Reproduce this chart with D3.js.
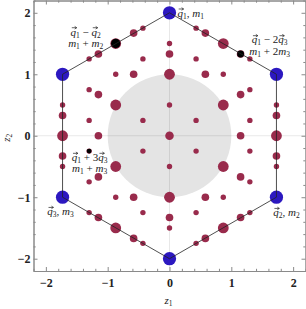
<!DOCTYPE html>
<html>
<head>
<meta charset="utf-8">
<script src="https://cdn.jsdelivr.net/npm/d3@7"></script>
<style>
body { margin: 0; background: #fff; }
svg text { font-family: "Liberation Serif", "DejaVu Serif", serif; }
</style>
</head>
<body>
<script>
// hexagon corners (blue points)
var hexZ1 = [0, 1.73, 1.73, 0, -1.73, -1.73];
var hexZ2 = [2, 1, -1, -2, -1, 1];
var blueWeight = 6;

// crimson points: z1, z2 and weight
var dotZ1 = [0,
  0, 0, 0.87, 0.87, -0.87, -0.87,
  0, 0, 0.43, 0.43, -0.43, -0.43,
  0, 0, 1.3, 1.3, -1.3, -1.3,
  0, 0, 1.15, 1.15, -1.15, -1.15,
  0.58, 0.58, -0.58, -0.58, 1.15, -1.15,
  0.43, 0.43, -0.43, -0.43, 0.87, 0.87, -0.87, -0.87, 1.3, 1.3, -1.3, -1.3,
  0.43, 0.43, -0.43, -0.43, 1.73, 1.73, -1.73, -1.73, 1.3, 1.3, -1.3, -1.3,
  0.58, 0.58, -0.58, -0.58, 1.73, 1.73, -1.73, -1.73, 1.15, 1.15, -1.15, -1.15,
  0.87, 0.87, -0.87, -0.87, 1.73, -1.73];
var dotZ2 = [0,
  1, -1, 0.5, -0.5, 0.5, -0.5,
  0.5, -0.5, 0.25, -0.25, 0.25, -0.25,
  1.5, -1.5, 0.75, -0.75, 0.75, -0.75,
  1.33, -1.33, 0.67, -0.67, 0.67, -0.67,
  1, -1, 1, -1, 0, 0,
  1.25, -1.25, 1.25, -1.25, 1, -1, 1, -1, 0.25, -0.25, 0.25, -0.25,
  1.75, -1.75, 1.75, -1.75, 0.5, -0.5, 0.5, -0.5, 1.25, -1.25, 1.25, -1.25,
  1.67, -1.67, 1.67, -1.67, 0.33, -0.33, 0.33, -0.33, 1.33, -1.33, 1.33, -1.33,
  1.5, -1.5, 1.5, -1.5, 0, 0];
var dotWeight = [2.5,
  4, 4, 4, 4, 4, 4,
  1, 1, 1, 1, 1, 1,
  1, 1, 1, 1, 1, 1,
  2, 2, 2, 2, 2, 2,
  2, 2, 2, 2, 2, 2,
  1, 1, 1, 1, 1, 1, 1, 1, 1, 1, 1, 1,
  1, 1, 1, 1, 1, 1, 1, 1, 1, 1, 1, 1,
  2, 2, 2, 2, 2, 2, 2, 2, 2, 2, 2, 2,
  4, 4, 4, 4, 4, 4];

// black marked points
var blackZ1 = [-0.87, 1.15, -1.3];
var blackZ2 = [1.5, 1.33, -0.25];
var blackWeight = [3, 1.6, 0.8];

var tickMajor = [-2, -1, 0, 1, 2];
var tickMinor = [-2.2, -1.8, -1.6, -1.4, -1.2, -0.8, -0.6, -0.4, -0.2, 0.2, 0.4, 0.6, 0.8, 1.2, 1.4, 1.6, 1.8, 2.2];
var diskRadius = 1;

var width = 306, height = 309;
var svg = d3.select("body").append("svg").attr("width", width).attr("height", height);

var x = d3.scaleLinear().domain([-2.2, 2.2]).range([33.5, 305.5]);
var y = d3.scaleLinear().domain([-2.2, 2.2]).range([271, 0.5]);
var r = d3.scaleSqrt().domain([0, 1]).range([0, 2.7]);

var crimson = "#992b4c", blue = "#2c18c0";

// gray disk
svg.append("ellipse")
    .attr("cx", x(0)).attr("cy", y(0))
    .attr("rx", x(diskRadius) - x(0)).attr("ry", y(0) - y(diskRadius))
    .attr("fill", "#e4e4e4");

// zero grid lines
svg.append("line").attr("x1", x(0)).attr("x2", x(0)).attr("y1", y(2.2)).attr("y2", y(-2.2))
    .attr("stroke", "rgba(0,0,0,0.09)").attr("stroke-width", 1);
svg.append("line").attr("x1", x(-2.2)).attr("x2", x(2.2)).attr("y1", y(0)).attr("y2", y(0))
    .attr("stroke", "rgba(0,0,0,0.09)").attr("stroke-width", 1);

// crimson dots
svg.append("g").selectAll("circle")
    .data(dotZ1)
    .enter().append("circle")
    .attr("cx", function (d) { return x(d); })
    .attr("cy", function (d, i) { return y(dotZ2[i]); })
    .attr("r", function (d, i) { return r(dotWeight[i]); })
    .attr("fill", crimson);

// blue corners
svg.append("g").selectAll("circle")
    .data(hexZ1)
    .enter().append("circle")
    .attr("cx", function (d) { return x(d); })
    .attr("cy", function (d, i) { return y(hexZ2[i]); })
    .attr("r", r(blueWeight))
    .attr("fill", blue);

// black points
svg.append("g").selectAll("circle")
    .data(blackZ1)
    .enter().append("circle")
    .attr("cx", function (d) { return x(d); })
    .attr("cy", function (d, i) { return y(blackZ2[i]); })
    .attr("r", function (d, i) { return r(blackWeight[i]); })
    .attr("fill", "#000");

// hexagon outline
var hexPts = hexZ1.map(function (d, i) { return [x(d), y(hexZ2[i])]; });
svg.append("path")
    .attr("d", d3.line()(hexPts) + "Z")
    .attr("fill", "none")
    .attr("stroke", "#222")
    .attr("stroke-width", 0.8);

// frame + ticks
function styleAxis(g) {
    g.select(".domain").attr("stroke", "#8a8a8a");
    g.selectAll(".tick line").attr("stroke", "#8a8a8a");
    g.selectAll("text").attr("font-weight", "bold").attr("font-size", 12).attr("fill", "#222");
}
var fmt = function (d) { return d < 0 ? "\u2212" + Math.abs(d) : d; };

svg.append("g").attr("transform", "translate(0," + y(-2.2) + ")")
    .call(d3.axisBottom(x).tickValues(tickMajor).tickSizeInner(-4).tickSizeOuter(0).tickPadding(7).tickFormat(fmt))
    .call(styleAxis);
svg.append("g").attr("transform", "translate(0," + y(-2.2) + ")")
    .call(d3.axisBottom(x).tickValues(tickMinor).tickSizeInner(-2.2).tickSizeOuter(0).tickFormat(""))
    .call(styleAxis);
svg.append("g").attr("transform", "translate(0," + y(2.2) + ")")
    .call(d3.axisTop(x).tickValues(tickMajor).tickSizeInner(-4).tickSizeOuter(0).tickFormat(""))
    .call(styleAxis);
svg.append("g").attr("transform", "translate(0," + y(2.2) + ")")
    .call(d3.axisTop(x).tickValues(tickMinor).tickSizeInner(-2.2).tickSizeOuter(0).tickFormat(""))
    .call(styleAxis);
svg.append("g").attr("transform", "translate(" + x(-2.2) + ",0)")
    .call(d3.axisLeft(y).tickValues(tickMajor).tickSizeInner(-4).tickSizeOuter(0).tickPadding(3).tickFormat(fmt))
    .call(styleAxis);
svg.append("g").attr("transform", "translate(" + x(-2.2) + ",0)")
    .call(d3.axisLeft(y).tickValues(tickMinor).tickSizeInner(-2.2).tickSizeOuter(0).tickFormat(""))
    .call(styleAxis);
svg.append("g").attr("transform", "translate(" + x(2.2) + ",0)")
    .call(d3.axisRight(y).tickValues(tickMajor).tickSizeInner(-4).tickSizeOuter(0).tickFormat(""))
    .call(styleAxis);
svg.append("g").attr("transform", "translate(" + x(2.2) + ",0)")
    .call(d3.axisRight(y).tickValues(tickMinor).tickSizeInner(-2.2).tickSizeOuter(0).tickFormat(""))
    .call(styleAxis);

// math text: lines of parts [text, italic, sub]; every "q" gets a vector arrow on top
var arrows = svg.append("g");
function mathText(g, lines, px, py, anchor, gap) {
    var t = g.append("text").attr("x", px).attr("y", py)
        .attr("text-anchor", anchor).attr("font-size", 11).attr("fill", "#222");
    var cur = 0;
    lines.forEach(function (parts, li) {
        parts.forEach(function (p, pi) {
            var ts = t.append("tspan").text(p[0]);
            var want = li * (gap || 0) + (p[2] ? 2 : 0);
            if (li > 0 && pi === 0) ts.attr("x", px);
            if (want !== cur) ts.attr("dy", want - cur);
            cur = want;
            if (p[1]) ts.attr("font-style", "italic");
            if (p[2]) ts.attr("font-size", 7.5);
        });
    });
    var node = t.node(), str = node.textContent;
    for (var i = 0; i < str.length; i++) {
        if (str[i] !== "q") continue;
        var b = node.getExtentOfChar(i);
        var x0 = b.x + 1.2, x1 = b.x + b.width + 0.6, ya = b.y + 2.2;
        arrows.append("path")
            .attr("d", "M" + x0 + "," + ya + "H" + x1 + "M" + (x1 - 2) + "," + (ya - 1.3) + "L" + x1 + "," + ya + "L" + (x1 - 2) + "," + (ya + 1.3))
            .attr("fill", "none").attr("stroke", "#222").attr("stroke-width", 0.7);
    }
    return t;
}
var lab = svg.append("g");
mathText(lab, [[["q", 1], ["1", 0, 1], [", "], ["m", 1], ["1", 0, 1]]], x(0) + 8, y(2) + 4, "start");
mathText(lab, [[["q", 1], ["1", 0, 1], [" \u2212 "], ["q", 1], ["2", 0, 1]],
               [["m", 1], ["1", 0, 1], [" + "], ["m", 1], ["2", 0, 1]]], x(-0.87) - 30, y(1.5) - 8, "middle", 11.5);
mathText(lab, [[["q", 1], ["1", 0, 1], [" \u2212 2"], ["q", 1], ["3", 0, 1]],
               [["m", 1], ["1", 0, 1], [" + 2"], ["m", 1], ["3", 0, 1]]], x(1.15) + 29, y(1.33) - 10.5, "middle", 12);
mathText(lab, [[["q", 1], ["1", 0, 1], [" + 3"], ["q", 1], ["3", 0, 1]],
               [["m", 1], ["1", 0, 1], [" + "], ["m", 1], ["3", 0, 1]]], x(-1.3) + 0.5, y(-0.25) + 10, "middle", 11);
mathText(lab, [[["q", 1], ["3", 0, 1], [", "], ["m", 1], ["3", 0, 1]]], x(-1.73) - 2, y(-1) + 18, "middle");
mathText(lab, [[["q", 1], ["2", 0, 1], [", "], ["m", 1], ["2", 0, 1]]], x(1.73) + 10, y(-1) + 19, "middle");

// axis titles
mathText(svg, [[["z", 1], ["1", 0, 1]]], x(0) - 1, 304, "middle");
mathText(svg, [[["z", 1], ["2", 0, 1]]], 0, 0, "middle").attr("transform", "translate(10," + (y(0) + 2) + ") rotate(-90)");
</script>
</body>
</html>
